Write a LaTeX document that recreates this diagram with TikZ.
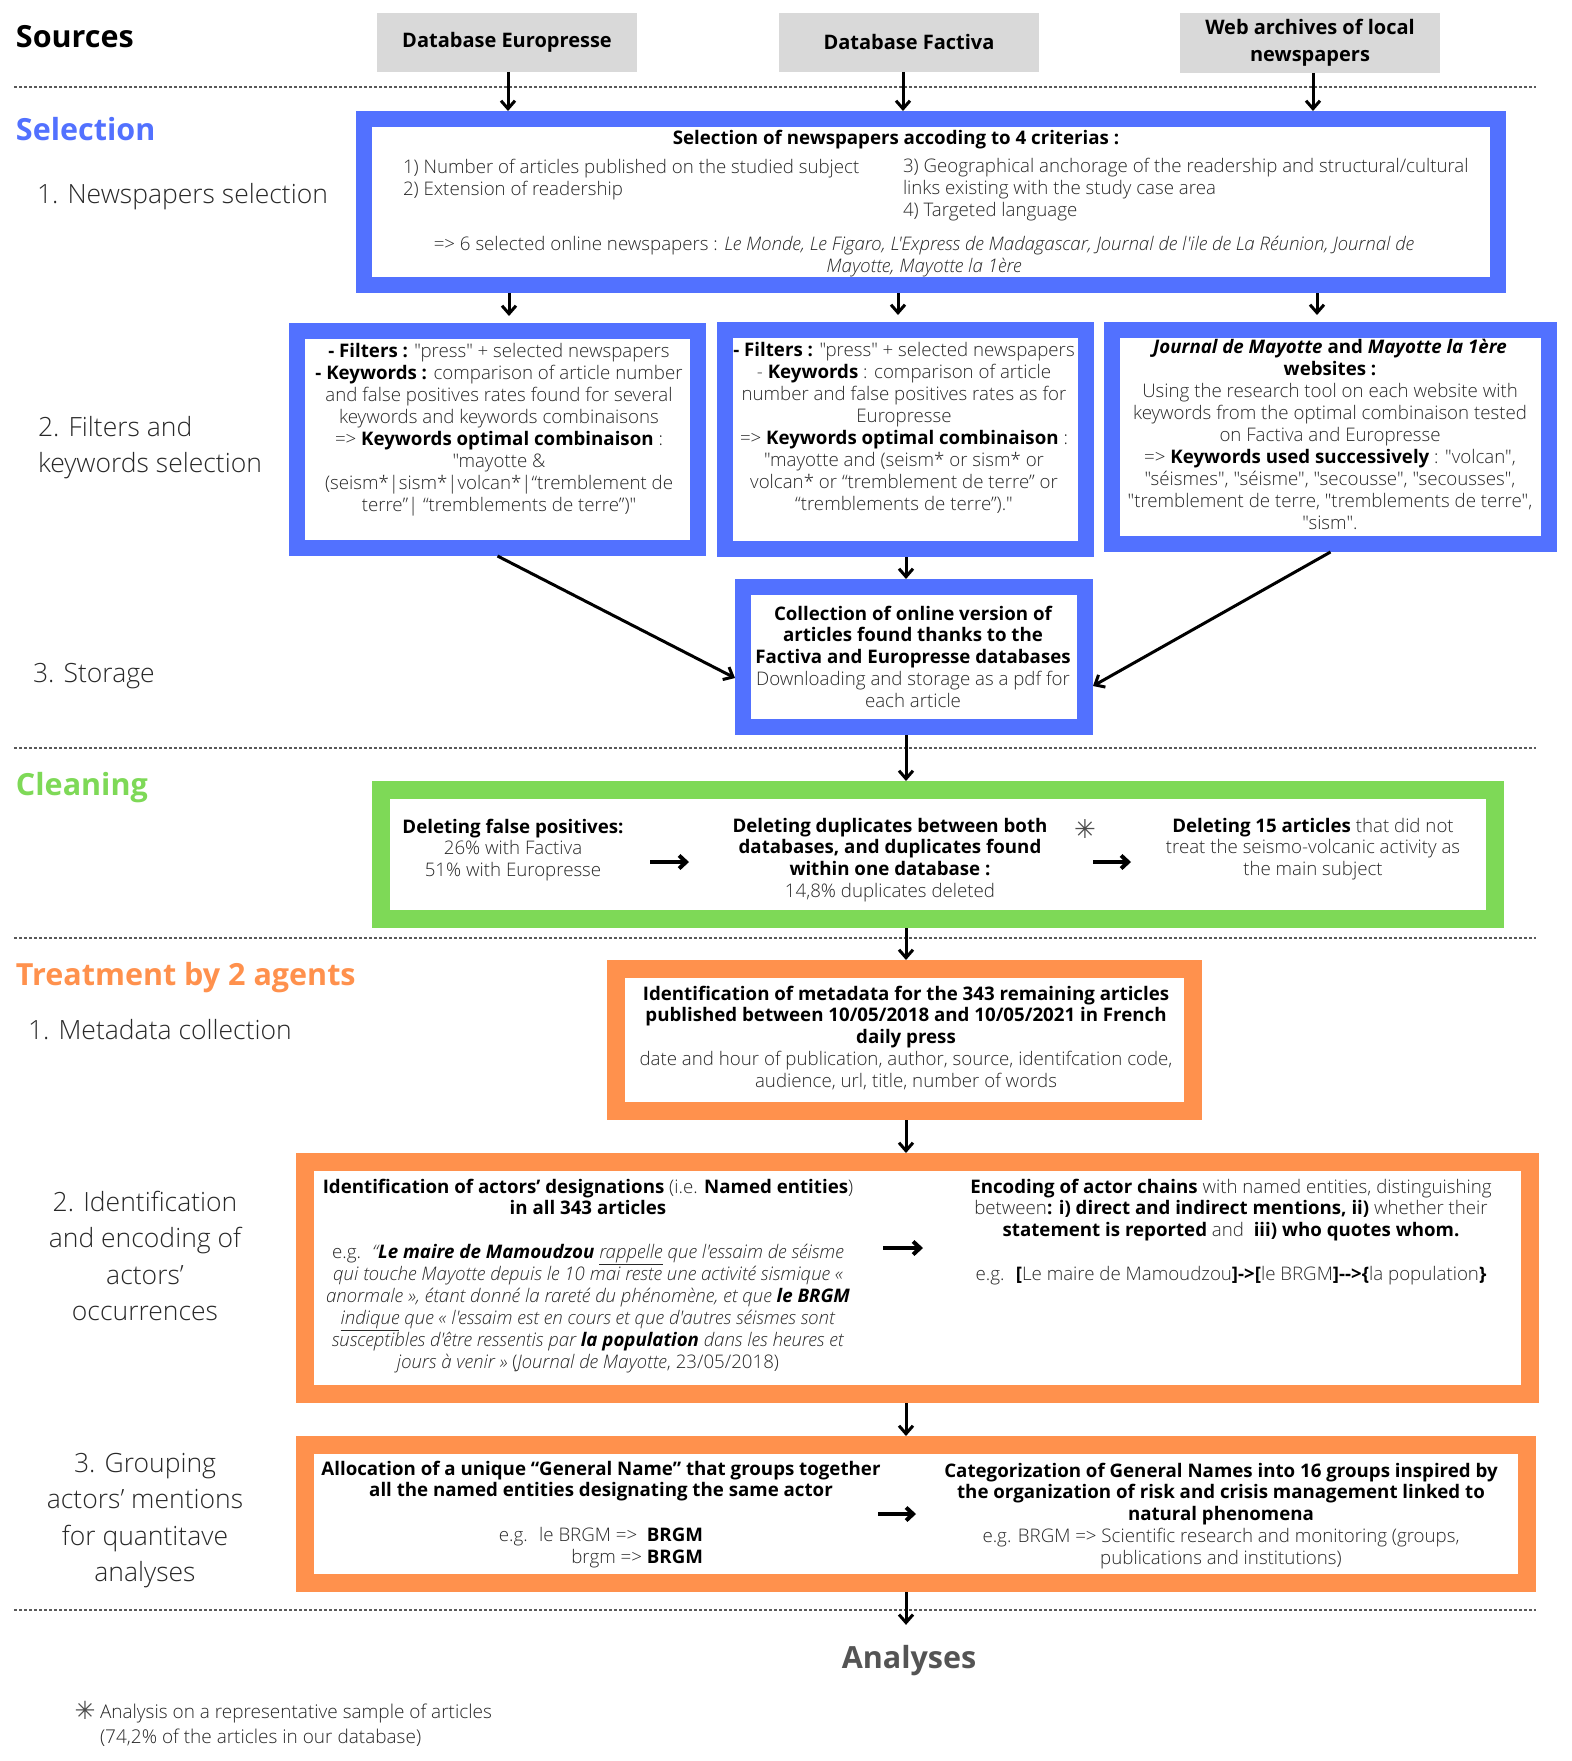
\documentclass[tikz,border=0pt]{standalone}
\usepackage{fontspec}
\setmainfont{Open Sans}[Ligatures=TeXOff, UprightFont=* Light, ItalicFont=* Light Italic, BoldFont=* Bold, BoldItalicFont=* Bold Italic]
\newfontfamily\dejavu{DejaVu Sans}
\usetikzlibrary{arrows.meta,calc}
\definecolor{selblue}{RGB}{82,113,255}
\definecolor{clgreen}{RGB}{126,217,87}
\definecolor{trorange}{RGB}{255,145,77}
\definecolor{srcgray}{RGB}{217,217,217}
\definecolor{anagray}{RGB}{84,84,84}
\definecolor{lighttext}{RGB}{40,40,40}
\newcommand{\bk}[1]{{\bfseries\color{black}#1}}
\tikzset{
  x=1pt, y=-1pt,
  every node/.style={inner sep=0pt, outer sep=0pt},
  bluebox/.style={rectangle, draw=selblue, fill=white, line width=16pt, outer sep=8pt},
  greenbox/.style={rectangle, draw=clgreen, fill=white, line width=18pt, outer sep=9pt},
  orangebox/.style={rectangle, draw=trorange, fill=white, line width=18pt, outer sep=9pt},
  srcbox/.style={fill=srcgray, minimum width=260pt, minimum height=59pt, align=center,
    font=\fontsize{20}{27}\selectfont\bfseries},
  sect/.style={anchor=base west, font=\fontsize{30.5}{36}\selectfont\bfseries},
  steplabel/.style={font=\fontsize{26.5}{36.5}\selectfont, text=lighttext},
  body/.style={anchor=base, align=center, text=lighttext, font=\fontsize{18.7}{21.9}\selectfont},
  arr/.style={draw=black, line width=3pt, -{Straight Barb[length=8pt,width=14pt]}},
  thickarr/.style={draw=black, line width=4pt, -{Straight Barb[length=7pt,width=13pt]}},
  sepline/.style={draw=black!65, line width=1.5pt, dash pattern=on 3pt off 2pt}
}
\begin{document}
\begin{tikzpicture}
\useasboundingbox (0,0) rectangle (1571,1761);
\fill[white] (0,0) rectangle (1571,1761);

% column coordinates
\coordinate (colE) at (508,0);
\coordinate (colF) at (903,0);
\coordinate (colW) at (1313,0);
\coordinate (rE) at (509,0);
\coordinate (rF) at (898,0);
\coordinate (rW) at (1317,0);
\coordinate (main) at (906,0);

% separators
\coordinate (s1a) at (14,87);   \coordinate (s1b) at (1536,87);
\coordinate (s2a) at (14,748);  \coordinate (s2b) at (1536,748);
\coordinate (s3a) at (14,938);  \coordinate (s3b) at (1536,938);
\coordinate (s4a) at (14,1610); \coordinate (s4b) at (1536,1610);
\draw[sepline] (s1a) -- (s1b);
\draw[sepline] (s2a) -- (s2b);
\draw[sepline] (s3a) -- (s3b);
\draw[sepline] (s4a) -- (s4b);

% section titles
\node[sect] (tSources) at (16,48) {Sources};
\node[sect, text=selblue] (tSelection) at (16,140) {Selection};
\node[sect, text=clgreen] (tCleaning) at (16,795) {Cleaning};
\node[sect, text=trorange] (tTreatment) at (16,985) {Treatment by 2 agents};
\node[anchor=base, font=\fontsize{30.5}{36}\selectfont\bfseries, text=anagray] (tAnalyses) at (909,1668) {Analyses};

% step labels (base anchor = last line)
\node[steplabel, anchor=base west] (l1) at (37,203) {1. Newspapers selection};
\node[steplabel, anchor=base west, align=left] (l2) at (38,472.5) {2. Filters and\\keywords selection};
\node[steplabel, anchor=base west] (l3) at (33,682) {3. Storage};
\node[steplabel, anchor=base west] (l4) at (28,1039) {1. Metadata collection};
\node[steplabel, anchor=base, align=center] (l5) at (145,1320.5) {2. Identification\\and encoding of\\actors’\\occurrences};
\node[steplabel, anchor=base, align=center] (l6) at (145,1581.5) {3. Grouping\\actors’ mentions\\for quantitave\\analyses};

% sources
\node[srcbox] (srcE) at (507,42.5) {Database Europresse};
\node[srcbox] (srcF) at (909,42.5) {Database Factiva};
\node[srcbox, minimum height=60pt] (srcW) at (1310,43) {Web archives of local\\newspapers};

% selection boxes
\node[bluebox, minimum width=1133.5pt, minimum height=166pt] (box1) at (930.75,202) {};
\node[bluebox, minimum width=401pt, minimum height=217pt] (boxA) at (497.5,439.5) {};
\node[bluebox, minimum width=361pt, minimum height=219pt] (boxB) at (905.5,439.5) {};
\node[bluebox, minimum width=437pt, minimum height=214pt] (boxC) at (1330.5,437) {};
\node[bluebox, minimum width=342pt, minimum height=140pt] (boxD) at (914,657) {};

% cleaning / treatment boxes
\node[greenbox, minimum width=1114pt, minimum height=129pt] (green) at (938,854.5) {};
\node[orangebox, minimum width=577pt, minimum height=142pt] (or1) at (904.5,1040) {};
\node[orangebox, minimum width=1225pt, minimum height=232pt] (or2) at (917.5,1278) {};
\node[orangebox, minimum width=1222pt, minimum height=138pt] (or3) at (916,1514) {};

% texts of box1
\node[body] (b1title) at (896,144) {\bk{Selection of newspapers accoding to 4 criterias :}};
\node[body, anchor=base west, align=left] (b1left) at (403,195) {1) Number of articles published on the studied subject\\2) Extension of readership};
\node[body, anchor=base west, align=left] (b1right) at (903,216) {3) Geographical anchorage of the readership and structural/cultural\\links existing with the study case area\\4) Targeted language};
\node[body] (b1bottom) at (924,272) {=> 6 selected online newspapers : \textit{Le Monde, Le Figaro, L'Express de Madagascar, Journal de l'ile de La Réunion, Journal de}\\\textit{Mayotte, Mayotte la 1ère}};

% texts of row 2
\node[body] (tA) at (499,511) {\bk{- Filters :} "press" + selected newspapers\\
\bk{- Keywords :} comparison of article number\\
and false positives rates found for several\\
keywords and keywords combinaisons\\
=> \bk{Keywords optimal combinaison} :\\
"mayotte \&\\
(seism*|sism*|volcan*|“tremblement de\\
terre”| “tremblements de terre”)"};
\node[body] (tB) at (904,510) {\bk{- Filters :} "press" + selected newspapers\\
- \bk{Keywords} : comparison of article\\
number and false positives rates as for\\
Europresse\\
=> \bk{Keywords optimal combinaison} :\\
"mayotte and (seism* or sism* or\\
volcan* or “tremblement de terre” or\\
“tremblements de terre”)."};
\node[body] (tC) at (1330,529) {\bk{\textit{Journal de Mayotte} and \textit{Mayotte la 1ère}}\\
\bk{websites :}\\
Using the research tool on each website with\\
keywords from the optimal combinaison tested\\
on Factiva and Europresse\\
=> \bk{Keywords used successively} : "volcan",\\
"séismes", "séisme", "secousse", "secousses",\\
"tremblement de terre, "tremblements de terre",\\
"sism".};
\node[body] (tD) at (913,707.6) {\bk{Collection of online version of}\\
\bk{articles found thanks to the}\\
\bk{Factiva and Europresse databases}\\
Downloading and storage as a pdf for\\
each article};

% cleaning texts
\node[body] (g1) at (513,876.8) {\bk{Deleting false positives:}\\26\% with Factiva\\51\% with Europresse};
\node[body] (g2) at (890,897.7) {\bk{Deleting duplicates between both}\\\bk{databases, and duplicates found}\\\bk{within one database :}\\14,8\% duplicates deleted};
\node[body] (g3) at (1313,875.8) {\bk{Deleting 15 articles} that did not\\treat the seismo-volcanic activity as\\the main subject};
\node[text=black!70, font=\dejavu\fontsize{26}{26}\selectfont] (ast1) at (1085,829) {✳};
\coordinate (ga1) at (650,862); \coordinate (ga2) at (689,862);
\coordinate (ga3) at (1093,862); \coordinate (ga4) at (1131,862);
\draw[thickarr] (ga1) -- (ga2);
\draw[thickarr] (ga3) -- (ga4);

% treatment texts
\node[body] (t1) at (906,1087.6) {\bk{Identification of metadata for the 343 remaining articles}\\
\bk{published between 10/05/2018 and 10/05/2021 in French}\\
\bk{daily press}\\
date and hour of publication, author, source, identifcation code,\\
audience, url, title, number of words};
\node[body] (t2l) at (588,1368.2) {\bk{Identification of actors’ designations} (i.e. \bk{Named entities})\\
\bk{in all 343 articles}\\
\mbox{}\\
e.g. \ \textit{“\bk{Le maire de Mamoudzou} \underline{rappelle} que l'essaim de séisme}\\
\textit{qui touche Mayotte depuis le 10 mai reste une activité sismique «}\\
\textit{anormale », étant donné la rareté du phénomène, et que \bk{le BRGM}}\\
\textit{\underline{indique} que « l'essaim est en cours et que d'autres séismes sont}\\
\textit{susceptibles d'être ressentis par \bk{la population} dans les heures et}\\
\textit{jours à venir »} (\textit{Journal de Mayotte}, 23/05/2018)};
\node[body] (t2r) at (1231,1280.6) {\bk{Encoding of actor chains} with named entities, distinguishing\\
between\bk{: i) direct and indirect mentions, ii)} whether their\\
\bk{statement is reported} and \ \bk{iii) who quotes whom.}\\
\mbox{}\\
e.g. \ \bk{[}Le maire de Mamoudzou\bk{]->[}le BRGM\bk{]-->\{}la population\bk{\}}};
\coordinate (oa1) at (883,1248); \coordinate (oa2) at (923,1248);
\draw[thickarr] (oa1) -- (oa2);

\node[body] (t3l) at (601,1496.9) {\bk{Allocation of a unique “General Name” that groups together}\\
\bk{all the named entities designating the same actor}};
\node[body, anchor=base east, align=right] (t3ex) at (703,1563) {e.g. \ le BRGM => \ \bk{BRGM}\\brgm => \bk{BRGM}};
\node[body] (t3r) at (1221,1564.6) {\bk{Categorization of General Names into 16 groups inspired by}\\
\bk{the organization of risk and crisis management linked to}\\
\bk{natural phenomena}\\
e.g. BRGM => Scientific research and monitoring (groups,\\
publications and institutions)};
\coordinate (ob1) at (878,1514); \coordinate (ob2) at (916,1514);
\draw[thickarr] (ob1) -- (ob2);

% footnote
\node[text=black!70, font=\dejavu\fontsize{25}{25}\selectfont] (ast2) at (85,1710) {✳};
\node[body, anchor=base west, align=left, font=\fontsize{19}{25}\selectfont] (foot) at (100,1743) {Analysis on a representative sample of articles\\(74,2\% of the articles in our database)};

% connectors
\draw[arr] (srcE.south -| colE) -- (box1.north -| colE);
\draw[arr] (srcF.south -| colF) -- (box1.north -| colF);
\draw[arr] (srcW.south -| colW) -- (box1.north -| colW);
\draw[arr, shorten >=7pt] (box1.south -| rE) -- (boxA.north -| rE);
\draw[arr, shorten >=7pt] (box1.south -| rF) -- (boxB.north -| rF);
\draw[arr, shorten >=7pt] (box1.south -| rW) -- (boxC.north -| rW);
\draw[arr] (boxB.south -| main) -- (boxD.north -| main);
\draw[arr] (boxA.south) -- ([yshift=-21pt]boxD.west);
\draw[arr] (boxC.south) -- ([yshift=-29pt]boxD.east);
\draw[arr] (boxD.south -| main) -- (green.north -| main);
\draw[arr] (green.south -| main) -- (or1.north -| main);
\draw[arr] (or1.south -| main) -- (or2.north -| main);
\draw[arr] (or2.south -| main) -- (or3.north -| main);
\draw[arr, shorten >=20pt] (or3.south -| main) -- (tAnalyses.north -| main);
\end{tikzpicture}
\end{document}
